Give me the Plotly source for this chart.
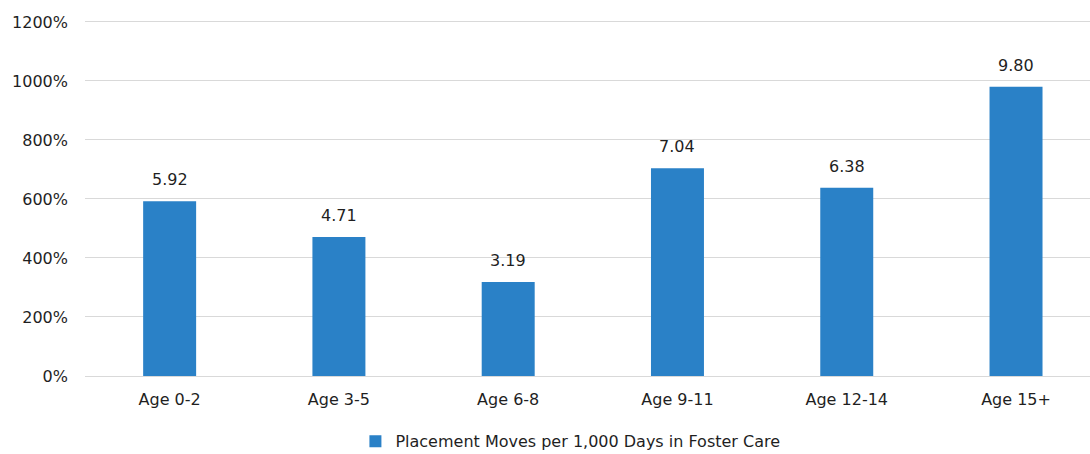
import plotly.graph_objects as go

categories = ["Age 0-2", "Age 3-5", "Age 6-8", "Age 9-11", "Age 12-14", "Age 15+"]
values = [5.92, 4.71, 3.19, 7.04, 6.38, 9.80]
value_labels = ["5.92", "4.71", "3.19", "7.04", "6.38", "9.80"]
series_name = "Placement Moves per 1,000 Days in Foster Care"
y_ticks = [0, 2, 4, 6, 8, 10, 12]

FONT = "DejaVu Sans"
TXT = "#1F1F1F"

xs = list(range(len(categories)))

fig = go.Figure()
fig.add_trace(go.Bar(
    x=xs,
    y=values,
    name=series_name,
    marker=dict(color="#2A81C7", line=dict(width=0)),
    width=0.313,
))

for xi, v, lab in zip(xs, values, value_labels):
    fig.add_annotation(x=xi, y=v, text=lab, showarrow=False,
                       yanchor="bottom", yshift=10,
                       font=dict(family=FONT, size=16, color=TXT))

fig.update_layout(
    width=1090, height=454,
    margin=dict(l=85, r=0, t=19, b=78),
    paper_bgcolor="white", plot_bgcolor="white",
    font=dict(family=FONT, size=16, color=TXT),
    showlegend=True,
    legend=dict(orientation="h", x=0.483, xanchor="center",
                yref="container", y=0.028, yanchor="middle",
                font=dict(family=FONT, size=16, color=TXT)),
    xaxis=dict(
        range=[-0.5, 5.437],
        tickmode="array",
        tickvals=xs,
        ticktext=categories,
        showgrid=False, zeroline=False, showline=False,
        ticks="", ticklabelstandoff=12,
    ),
    yaxis=dict(
        range=[0, 12.1],
        tickmode="array",
        tickvals=y_ticks,
        tickformat=".0%",
        showgrid=True, gridcolor="#D9D9D9", gridwidth=1,
        zeroline=True, zerolinecolor="#D9D9D9", zerolinewidth=1,
        showline=False, ticks="", ticklabelstandoff=16,
    ),
)

fig.write_html("out.html")
